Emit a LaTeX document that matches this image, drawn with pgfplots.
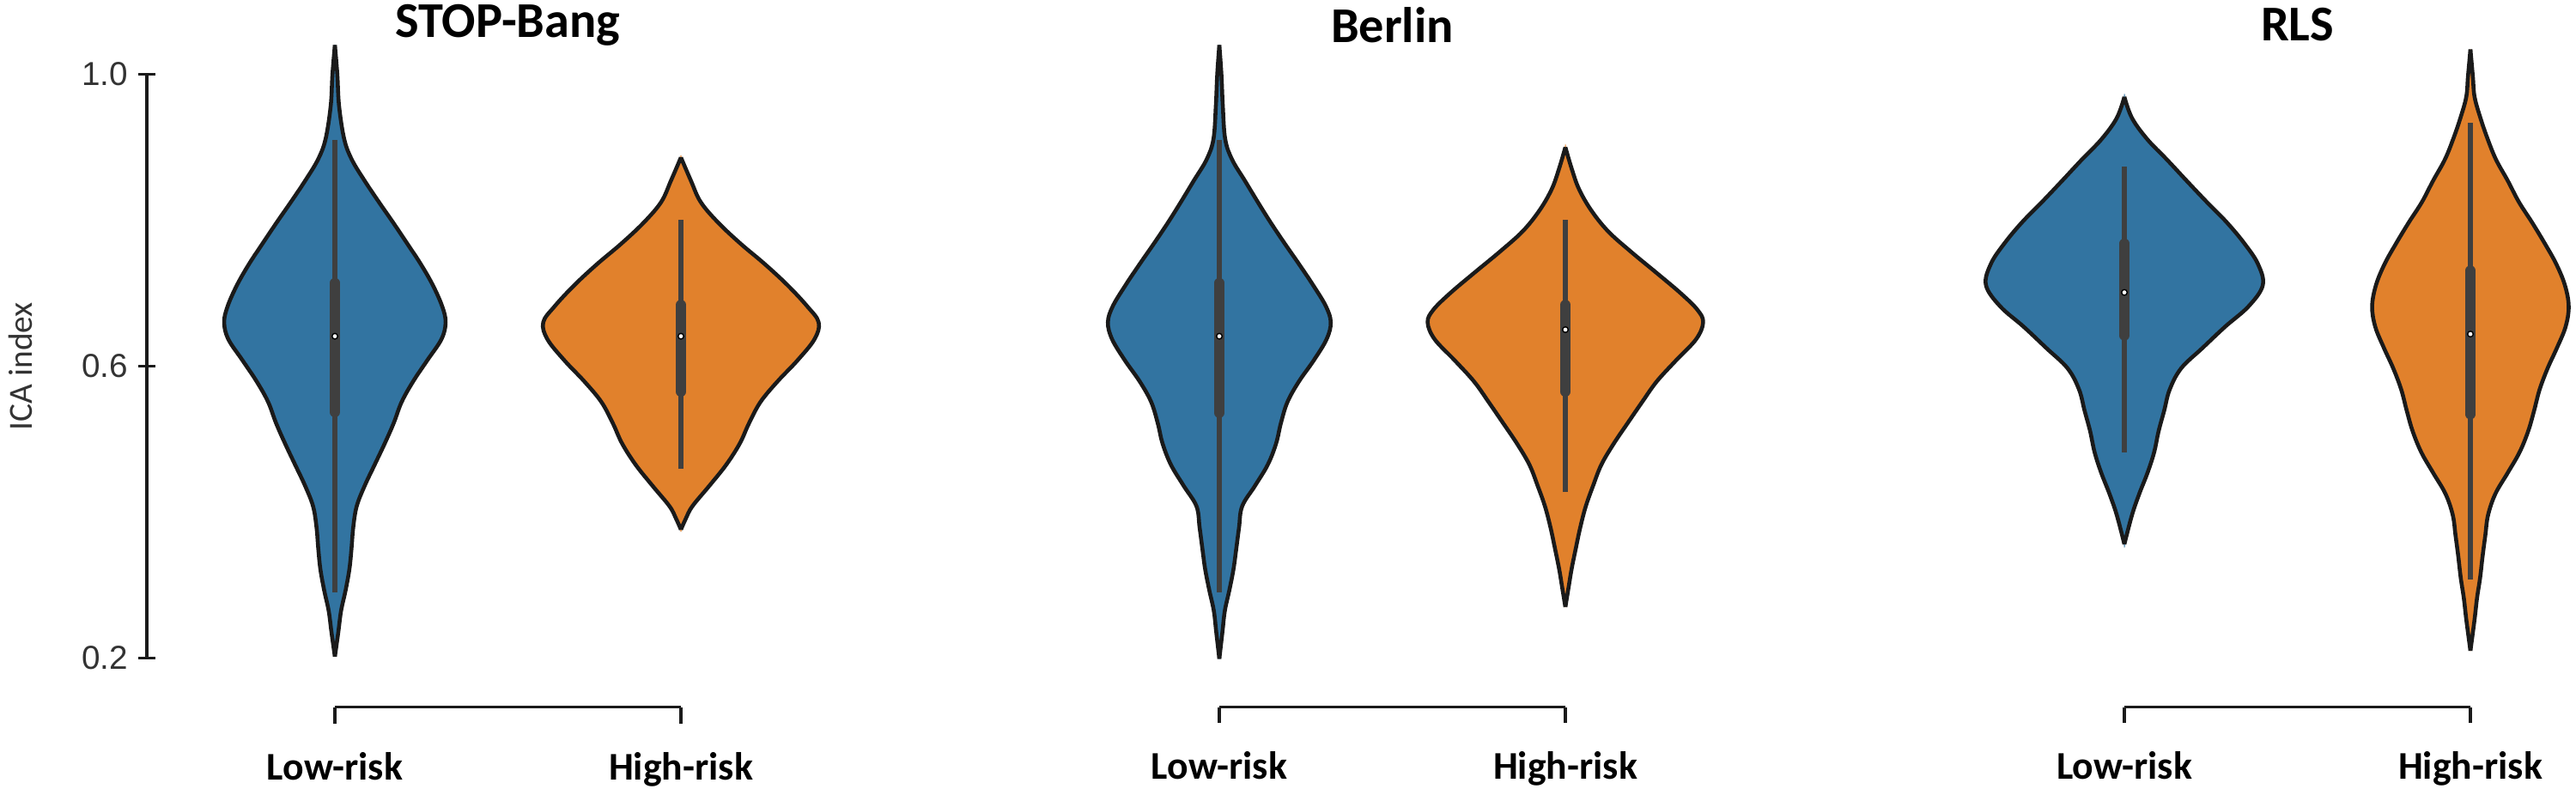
\documentclass[border=0pt]{standalone}
\usepackage{fontspec}
\setmainfont{Carlito}
\newfontfamily\tickfont{Liberation Sans}
\usepackage{pgfplots}
\pgfplotsset{compat=1.18}
\usepackage{pgfplotstable}
\definecolor{vblue}{HTML}{3274A1}
\definecolor{vorange}{HTML}{E1812C}
\definecolor{boxgray}{HTML}{3F3F3F}
\definecolor{outl}{HTML}{1A1A1A}
\definecolor{txtgray}{HTML}{333333}

% STOP-Bang, Low-risk
\pgfplotstableread{
y w
0.202 0
0.236 0.010
0.265 0.018
0.293 0.031
0.322 0.042
0.350 0.048
0.379 0.053
0.408 0.063
0.436 0.086
0.465 0.115
0.494 0.144
0.522 0.170
0.551 0.193
0.579 0.226
0.608 0.267
0.637 0.308
0.660 0.320
0.682 0.310
0.711 0.283
0.740 0.248
0.768 0.209
0.797 0.168
0.825 0.127
0.854 0.086
0.883 0.049
0.911 0.027
0.957 0.012
1.000 0.007
1.040 0
}\vA
% STOP-Bang, High-risk
\pgfplotstableread{
y w
0.376 0
0.391 0.014
0.408 0.033
0.436 0.082
0.465 0.131
0.494 0.170
0.522 0.197
0.551 0.230
0.579 0.279
0.608 0.337
0.637 0.386
0.660 0.398
0.682 0.365
0.711 0.308
0.740 0.242
0.768 0.172
0.797 0.107
0.825 0.057
0.854 0.029
0.886 0
}\vB
% Berlin, Low-risk
\pgfplotstableread{
y w
0.199 0
0.236 0.009
0.265 0.016
0.293 0.029
0.322 0.041
0.350 0.049
0.379 0.057
0.408 0.066
0.436 0.103
0.465 0.140
0.494 0.164
0.522 0.178
0.551 0.197
0.579 0.230
0.608 0.273
0.637 0.310
0.660 0.322
0.682 0.308
0.711 0.271
0.740 0.230
0.768 0.189
0.797 0.148
0.825 0.111
0.854 0.074
0.883 0.037
0.911 0.017
0.957 0.010
1.000 0.006
1.040 0
}\vC
% Berlin, High-risk
\pgfplotstableread{
y w
0.270 0
0.299 0.010
0.322 0.018
0.350 0.030
0.379 0.043
0.408 0.059
0.436 0.080
0.465 0.104
0.494 0.140
0.522 0.180
0.551 0.222
0.579 0.264
0.608 0.320
0.637 0.378
0.660 0.398
0.677 0.382
0.700 0.333
0.728 0.263
0.757 0.189
0.785 0.123
0.814 0.074
0.843 0.039
0.871 0.018
0.900 0
}\vD
% RLS, Low-risk
\pgfplotstableread{
y w
0.356 0
0.396 0.022
0.425 0.043
0.454 0.067
0.482 0.086
0.511 0.099
0.539 0.115
0.568 0.131
0.597 0.164
0.625 0.226
0.654 0.291
0.682 0.359
0.711 0.400
0.740 0.386
0.768 0.347
0.797 0.296
0.825 0.238
0.854 0.180
0.883 0.123
0.911 0.066
0.940 0.022
0.969 0
}\vE
% RLS, High-risk
\pgfplotstableread{
y w
0.210 0
0.253 0.012
0.282 0.019
0.310 0.028
0.339 0.035
0.368 0.043
0.396 0.051
0.425 0.072
0.454 0.108
0.482 0.142
0.511 0.167
0.539 0.184
0.568 0.200
0.597 0.223
0.625 0.250
0.654 0.275
0.682 0.284
0.711 0.273
0.740 0.248
0.768 0.215
0.797 0.178
0.825 0.140
0.854 0.108
0.883 0.074
0.911 0.050
0.940 0.029
0.969 0.012
0.997 0.007
1.034 0
}\vF

% #1 table, #2 position, #3 colour, #4 whisker low, #5 whisker high, #6 Q1, #7 Q3, #8 median
\newcommand{\violin}[8]{%
  \addplot[fill=#3, draw=#3, line width=0.3pt, smooth, tension=0.6] table[x expr=#2+\thisrow{w}, y=y] {#1} -- cycle;
  \addplot[fill=#3, draw=#3, line width=0.3pt, smooth, tension=0.6] table[x expr=#2-\thisrow{w}, y=y] {#1} -- cycle;
  \addplot[draw=outl, line width=1.3pt, smooth, tension=0.6, line join=round] table[x expr=#2+\thisrow{w}, y=y] {#1};
  \addplot[draw=outl, line width=1.3pt, smooth, tension=0.6, line join=round] table[x expr=#2-\thisrow{w}, y=y] {#1};
  \addplot[draw=boxgray, line width=1.5pt] coordinates {(#2,#4) (#2,#5)};
  \addplot[draw=boxgray, line width=3.4pt, line cap=round] coordinates {(#2,#6) (#2,#7)};
  \addplot[only marks, mark=*, mark size=0.33mm, mark options={fill=white, draw=none}] coordinates {(#2,#8)};
}

\pgfplotsset{
  violinax/.style={
    x=40.3mm, y=85mm,
    xmin=0, xmax=1, ymin=0.2, ymax=1.0,
    enlargelimits=false, clip=false,
    anchor=south west,
    axis x line=bottom,
    axis x line shift=5.7mm,
    axis line style={-, line width=1pt, draw=outl},
    tick align=outside,
    major tick length=1.8mm,
    every tick/.style={line width=1pt, draw=outl},
    xtick={0,1}, xticklabels={Low-risk,High-risk},
    xticklabel style={font=\bfseries\fontsize{13}{14}\selectfont, text=black, yshift=-2.2mm},
  },
}
\tikzset{ttl/.style={font=\bfseries\fontsize{16.6}{18}\selectfont, anchor=center}}

\begin{document}
\begin{tikzpicture}
\useasboundingbox (0,0) rectangle (300mm,91.8mm);

% ---------- STOP-Bang ----------
\begin{axis}[violinax, at={(39.0mm,15.15mm)},
  axis y line=left,
  axis y line shift=21.9mm,
  y axis line style={-},
  every outer y axis line/.append style={-},
  every inner y axis line/.append style={-},
  ytick={0.2,0.6,1.0}, yticklabels={0.2,0.6,1.0},
  yticklabel style={font=\tickfont\fontsize{11}{12}\selectfont, text=txtgray},
  major tick length=1.9mm]
  \violin{\vA}{0}{vblue}{0.290}{0.910}{0.537}{0.714}{0.641}
  \violin{\vB}{1}{vorange}{0.459}{0.800}{0.565}{0.684}{0.641}
  \node[ttl] at (axis cs:0.5,1.0677) {STOP-Bang};
  \node[rotate=90, font=\fontsize{11.2}{12}\selectfont, text=txtgray] at (axis cs:-0.908,0.6) {ICA index};
\end{axis}

% ---------- Berlin ----------
\begin{axis}[violinax, at={(142.0mm,15.15mm)},
  axis y line=none, ytick=\empty]
  \violin{\vC}{0}{vblue}{0.290}{0.910}{0.536}{0.714}{0.641}
  \violin{\vD}{1}{vorange}{0.428}{0.800}{0.565}{0.684}{0.650}
  \node[ttl] at (axis cs:0.5,1.0677) {Berlin};
\end{axis}

% ---------- RLS ----------
\begin{axis}[violinax, at={(247.4mm,15.15mm)},
  axis y line=none, ytick=\empty]
  \violin{\vE}{0}{vblue}{0.482}{0.874}{0.642}{0.768}{0.701}
  \violin{\vF}{1}{vorange}{0.308}{0.934}{0.534}{0.731}{0.644}
  \node[ttl] at (axis cs:0.5,1.0677) {RLS};
\end{axis}
\end{tikzpicture}
\end{document}
